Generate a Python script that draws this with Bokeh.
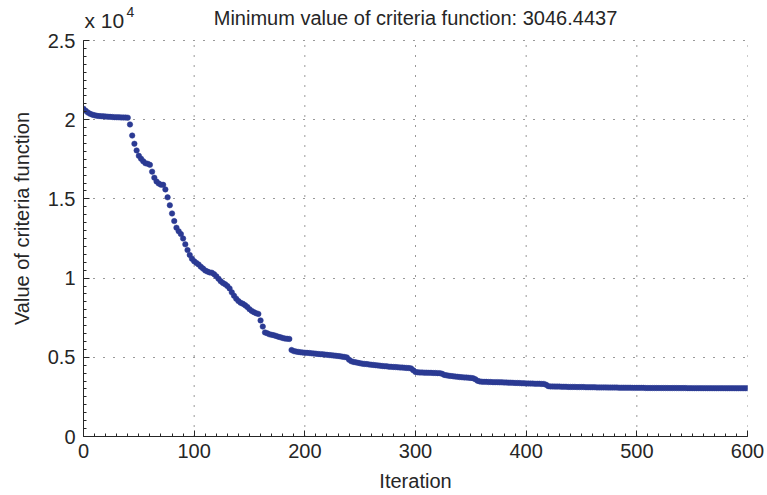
from bokeh.plotting import figure
from bokeh.models import Range1d, FixedTicker, Label
from bokeh.embed import file_html
from bokeh.resources import INLINE

# Iteration numbers (every second iteration was plotted)
iterations = list(range(0, 601, 2))

# Value of criteria function
values = [
    20690, 20560, 20450, 20370, 20320, 20280, 20250, 20230, 20220, 20210,
    20200, 20190, 20180, 20170, 20160, 20155, 20150, 20145, 20140, 20135,
    20130, 19700, 19000, 18480, 18060, 17720, 17540, 17370, 17250, 17220,
    17150, 16720, 16340, 16100, 15970, 15900, 15890, 15600, 15100, 14600,
    14080, 13600, 13180, 12960, 12780, 12500, 12130, 11770, 11460, 11220,
    11060, 10960, 10860, 10720, 10600, 10480, 10410, 10360, 10340, 10250,
    10110, 9960, 9800, 9690, 9610, 9500, 9350, 9100, 8890, 8700,
    8550, 8440, 8380, 8290, 8180, 8040, 7930, 7850, 7780, 7740,
    7330, 6940, 6570, 6520, 6450, 6420, 6390, 6350, 6300, 6260,
    6220, 6180, 6170, 6160, 5460, 5390, 5360, 5340, 5320, 5300,
    5290, 5280, 5270, 5250, 5240, 5230, 5210, 5200, 5190, 5170,
    5160, 5140, 5130, 5110, 5100, 5080, 5060, 5040, 5020, 4990,
    4850, 4750, 4710, 4680, 4650, 4620, 4600, 4580, 4570, 4550,
    4530, 4520, 4500, 4490, 4470, 4450, 4440, 4430, 4410, 4400,
    4390, 4380, 4370, 4360, 4350, 4340, 4330, 4320, 4300, 4180,
    4070, 4050, 4040, 4040, 4030, 4030, 4020, 4020, 4010, 4010,
    4000, 4000, 3960, 3890, 3860, 3840, 3820, 3800, 3780, 3770,
    3750, 3740, 3730, 3720, 3710, 3700, 3680, 3620, 3520, 3480,
    3460, 3450, 3450, 3440, 3440, 3430, 3430, 3430, 3420, 3420,
    3410, 3410, 3400, 3400, 3390, 3380, 3380, 3370, 3360, 3360,
    3350, 3350, 3340, 3340, 3330, 3330, 3330, 3320, 3320, 3270,
    3180, 3160, 3160, 3150, 3150, 3150, 3140, 3140, 3140, 3130,
    3130, 3130, 3130, 3120, 3120, 3120, 3120, 3110, 3110, 3110,
    3110, 3110, 3100, 3100, 3100, 3100, 3100, 3090, 3090, 3090,
    3090, 3090, 3080, 3080, 3080, 3080, 3080, 3080, 3070, 3070,
    3070, 3070, 3070, 3070, 3060, 3060, 3060, 3060, 3060, 3060,
    3060, 3058, 3058, 3057, 3057, 3056, 3056, 3056, 3055, 3055,
    3054, 3054, 3054, 3053, 3053, 3053, 3052, 3052, 3052, 3051,
    3051, 3051, 3050, 3050, 3050, 3050, 3049, 3049, 3049, 3049,
    3048, 3048, 3048, 3048, 3048, 3047, 3047, 3047, 3047, 3047,
    3046.4437,
]

x_ticks = [0, 100, 200, 300, 400, 500, 600]
y_ticks = [0, 5000, 10000, 15000, 20000, 25000]
y_tick_labels = ["0", "0.5", "1", "1.5", "2", "2.5"]
x_max = 600
y_max = 25000

title_text = "Minimum value of criteria function: 3046.4437"
x_label = "Iteration"
y_label = "Value of criteria function"
exp_base = "x 10"
exp_power = "4"

FONT = "Liberation Sans"
TXT = "#262626"
DOT = "#2B3A93"
GRID = "#333333"

# The frame reaches the top of the canvas so that the texts above the
# axes box stay inside it; axis, ticks and grid stop at y_max.
FRAME_H = 436
TOP_PX = 40
y_top = y_max * FRAME_H / (FRAME_H - TOP_PX)

p = figure(width=767, height=495, output_backend="svg", toolbar_location=None,
           title=None,
           x_range=Range1d(0, x_max), y_range=Range1d(0, y_top),
           min_border_left=83, min_border_right=20, min_border_top=0,
           min_border_bottom=59, background_fill_color="white",
           border_fill_color="white")
p.outline_line_color = None

p.xaxis.ticker = FixedTicker(ticks=x_ticks, minor_ticks=list(range(0, x_max + 1, 10)))
p.yaxis.ticker = FixedTicker(ticks=y_ticks, minor_ticks=list(range(0, y_max + 1, 500)))
p.yaxis.major_label_overrides = {float(t): l for t, l in zip(y_ticks, y_tick_labels)}
p.yaxis.bounds = (0, y_max)

for ax in (p.xaxis[0], p.yaxis[0]):
    ax.axis_line_color = TXT
    ax.axis_line_width = 1
    ax.major_tick_in = 6
    ax.major_tick_out = 0
    ax.minor_tick_in = 3
    ax.minor_tick_out = 0
    ax.major_tick_line_color = TXT
    ax.minor_tick_line_color = TXT
    ax.major_label_text_font = FONT
    ax.major_label_text_font_size = "20px"
    ax.major_label_text_color = TXT
    ax.axis_label_text_font = FONT
    ax.axis_label_text_font_size = "20px"
    ax.axis_label_text_font_style = "normal"
    ax.axis_label_text_color = TXT

p.xaxis.axis_label = x_label
p.yaxis.axis_label = y_label
p.xaxis.major_label_standoff = 7
p.xaxis.axis_label_standoff = 9
p.yaxis.major_label_standoff = 8
p.yaxis.axis_label_standoff = 12

# horizontal dotted grid
g = p.ygrid[0]
g.grid_line_color = GRID
g.grid_line_width = 1
g.grid_line_dash = "1 9"
# vertical dotted grid, limited to the axes box
p.xgrid.visible = False
p.segment(x0=x_ticks, y0=[0] * len(x_ticks), x1=x_ticks, y1=[y_max] * len(x_ticks),
          line_color=GRID, line_width=1, line_dash="1 9")

p.scatter(iterations, values, size=5.5, fill_color=DOT, line_color=DOT, line_width=0.5)

p.add_layout(Label(x=x_max / 2, y=y_max, text=title_text, text_font=FONT,
                   text_font_size="20px", text_color=TXT, text_align="center",
                   text_baseline="alphabetic", y_offset=23))
p.add_layout(Label(x=0, y=y_max, text=exp_base, text_font=FONT, text_font_size="21px",
                   text_color=TXT, text_baseline="alphabetic", x_offset=1, y_offset=20))
p.add_layout(Label(x=0, y=y_max, text=exp_power, text_font=FONT, text_font_size="14px",
                   text_color=TXT, text_baseline="alphabetic", x_offset=43, y_offset=29))

open("out.html", "w").write(file_html(p, INLINE))
